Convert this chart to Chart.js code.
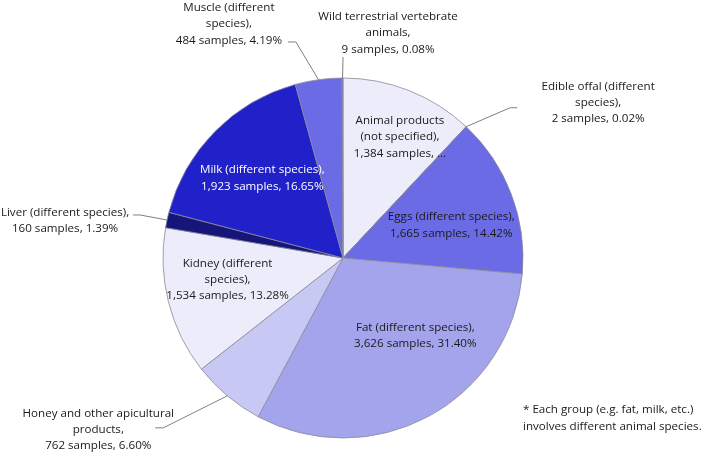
<!DOCTYPE html>
<html><head><meta charset="utf-8">
<script src="https://cdn.jsdelivr.net/npm/chart.js@4/dist/chart.umd.min.js"></script>
<style>html,body{margin:0;padding:0;background:#fff}#wrap{width:709px;height:452px}</style>
</head><body><div id="wrap"><canvas id="c" width="709" height="452"></canvas></div>
<script>
// ---- data ----
const categories = [
  'Animal products (not specified)', 'Edible offal (different species)', 'Eggs (different species)',
  'Fat (different species)', 'Honey and other apicultural products', 'Kidney (different species)',
  'Liver (different species)', 'Milk (different species)', 'Muscle (different species)',
  'Wild terrestrial vertebrate animals'
];
const samples = [1384, 2, 1665, 3626, 762, 1534, 160, 1923, 484, 9];
const nameLines = [
  ['Animal products', '(not specified),'],
  ['Edible offal (different', 'species),'],
  ['Eggs (different species),'],
  ['Fat (different species),'],
  ['Honey and other apicultural', 'products,'],
  ['Kidney (different', 'species),'],
  ['Liver (different species),'],
  ['Milk (different species),'],
  ['Muscle (different', 'species),'],
  ['Wild terrestrial vertebrate', 'animals,']
];
const noteLines = ['* Each group (e.g. fat, milk, etc.)', 'involves different animal species.'];

// ---- styles / layout ----
const sliceColors = ['#ececfa', '#6b6be6', '#6b6be6', '#a4a4ed', '#c8c8f4', '#ececfa', '#16167a', '#2121c9', '#6b6be6', '#6b6be6'];
const textColors = ['#1a1a1a','#1a1a1a','#1a1a1a','#1a1a1a','#1a1a1a','#1a1a1a','#1a1a1a','#ffffff','#1a1a1a','#1a1a1a'];
const FONT = '11.6px "Open Sans", "DejaVu Sans"';
const LH = 16.3;
// inside: f = radial fraction, dx/dy tweak; outside: offsets relative to slice edge point
const labelLayout = [
  {mode:'in', f:0.74, dx:8, dy:3, truncate:true},
  {mode:'out', elbow:[44,-19], end:[51,-19], text:[132,-24]},
  {mode:'in', f:0.62, dx:4, dy:7},
  {mode:'in', f:0.60, dx:21, dy:-17},
  {mode:'out', elbow:[-64,32], end:[-72,32], text:[-129,34]},
  {mode:'in', f:0.65, dx:-2, dy:-7},
  {mode:'out', elbow:[-27,-5], end:[-34,-5], text:[-102,1]},
  {mode:'in', f:0.63, dx:0, dy:0},
  {mode:'out', elbow:[-22.6,-37.7], end:[-30.6,-37.7], text:[-89.6,-55.7]},
  {mode:'out', elbow:[0.5,-21], end:[0.5,-21], text:[45.5,-45]}
];

const total = samples.reduce((a,b)=>a+b,0);

const labelPlugin = {
  id: 'pieLabels',
  afterDatasetsDraw(chart) {
    const ctx = chart.ctx;
    const meta = chart.getDatasetMeta(0);
    ctx.save();
    ctx.font = FONT;
    ctx.textAlign = 'center';
    ctx.textBaseline = 'middle';
    meta.data.forEach((arc, i) => {
      const p = arc.getProps(['x','y','startAngle','endAngle','outerRadius'], true);
      const mid = (p.startAngle + p.endAngle) / 2;
      const R = p.outerRadius;
      const L = labelLayout[i];
      const v = samples[i];
      const pct = (v / total * 100).toFixed(2);
      const last = L.truncate ? v.toLocaleString('en-US') + ' samples, \u2026'
                              : v.toLocaleString('en-US') + ' samples, ' + pct + '%';
      const lines = nameLines[i].concat([last]);
      let cx, cy;
      if (L.mode === 'in') {
        cx = p.x + L.f * R * Math.cos(mid) + L.dx;
        cy = p.y + L.f * R * Math.sin(mid) + L.dy;
        ctx.fillStyle = textColors[i];
      } else {
        const ex = p.x + R * Math.cos(mid), ey = p.y + R * Math.sin(mid);
        ctx.strokeStyle = '#7f7f7f';
        ctx.lineWidth = 1;
        ctx.beginPath();
        ctx.moveTo(ex, ey);
        ctx.lineTo(ex + L.elbow[0], ey + L.elbow[1]);
        ctx.lineTo(ex + L.end[0], ey + L.end[1]);
        ctx.stroke();
        cx = ex + L.text[0];
        cy = ey + L.text[1];
        ctx.fillStyle = '#1a1a1a';
      }
      const y0 = cy - (lines.length - 1) * LH / 2;
      lines.forEach((t, k) => ctx.fillText(t, cx, y0 + k * LH));
    });
    // note
    ctx.textAlign = 'left';
    ctx.fillStyle = '#1a1a1a';
    const ca = chart.chartArea;
    noteLines.forEach((t, k) => ctx.fillText(t, ca.right - 163, 410 + k * 17));
    ctx.restore();
  }
};

new Chart(document.getElementById('c'), {
  type: 'pie',
  data: {
    labels: categories,
    datasets: [{
      data: samples,
      backgroundColor: sliceColors,
      borderColor: '#8a8a98',
      borderWidth: 0.8,
      radius: 180
    }]
  },
  options: {
    responsive: false,
    animation: false,
    devicePixelRatio: 1,
    layout: { padding: { left: 0, right: 23, top: 64, bottom: 0 } },
    plugins: { legend: { display: false }, tooltip: { enabled: false } }
  },
  plugins: [labelPlugin, {
    id: 'bg',
    beforeDraw(chart) { const c = chart.ctx; c.save(); c.fillStyle = '#fff'; c.fillRect(0,0,chart.width,chart.height); c.restore(); }
  }]
});
</script>
</body></html>
